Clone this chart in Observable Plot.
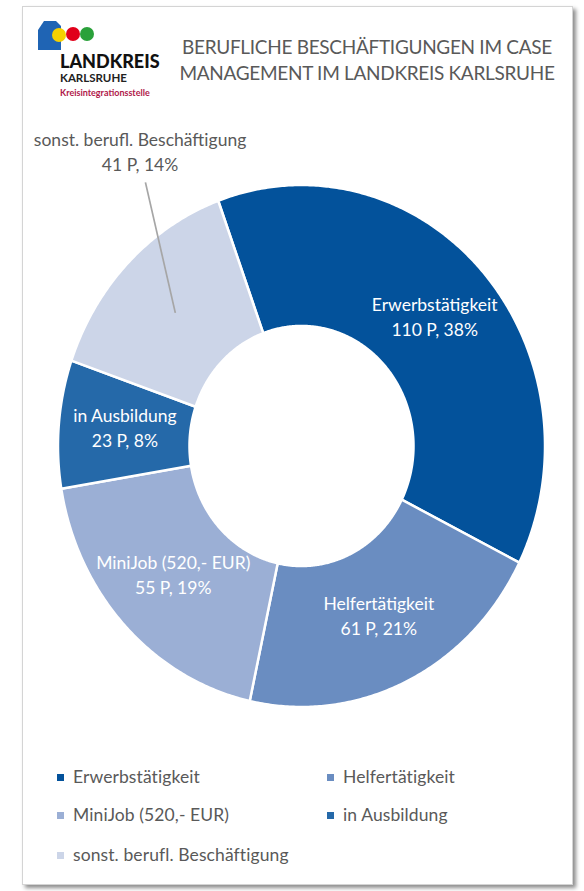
<!DOCTYPE html>
<html><head><meta charset="utf-8">
<script src="https://cdn.jsdelivr.net/npm/d3@7"></script>
<script src="https://cdn.jsdelivr.net/npm/@observablehq/plot@0.6"></script>
<style>
body{margin:0;width:584px;height:891px;position:relative;background:#fff;font-family:Lato,"Open Sans",sans-serif;overflow:hidden}
#frame{position:absolute;left:22px;top:6px;width:549px;height:877px;border:1px solid #d4d4d4;box-shadow:3px 3px 4px rgba(0,0,0,.45);background:#fff}
#logo{position:absolute;left:30px;top:12px}
#title{position:absolute;left:160px;width:414px;top:34px;text-align:center;color:#595959;font-size:19px;line-height:26px;letter-spacing:-0.3px}
#chart{position:absolute;left:0;top:110px}
.leg{position:absolute;color:#595959;font-size:17.5px;line-height:20px;white-space:nowrap;letter-spacing:0.1px}
.leg i{position:absolute;left:-16px;top:7px;width:7px;height:7px}
</style></head>
<body>
<div id="frame"></div>
<svg id="logo" width="140" height="95" viewBox="0 0 140 95">
  <path d="M14,9 L26,9 L31,14 L31,38 L8,38 L8,18 Z" fill="#1f64b4"/>
  <circle cx="29" cy="23" r="7" fill="#f5d000"/>
  <circle cx="43" cy="22" r="7" fill="#e1001a"/>
  <circle cx="57" cy="22" r="7" fill="#2aa13a"/>
  <text x="30" y="56" font-family="Lato, sans-serif" font-weight="900" font-size="18" fill="#111">LANDKREIS</text>
  <text x="30" y="70" font-family="Lato, sans-serif" font-weight="700" font-size="11.5" fill="#222">KARLSRUHE</text>
  <text x="30" y="84" font-family="Lato, sans-serif" font-weight="700" font-size="9" fill="#b0184a">Kreisintegrationsstelle</text>
</svg>
<div id="title">BERUFLICHE BESCHÄFTIGUNGEN IM CASE<br>MANAGEMENT IM LANDKREIS KARLSRUHE</div>
<div id="chart"></div>
<div id="legend"></div>
<script>
const categories = ["Erwerbstätigkeit","Helfertätigkeit","MiniJob (520,- EUR)","in Ausbildung","sonst. berufl. Beschäftigung"];
const persons = [110, 61, 55, 23, 41];
const percents = [38, 21, 19, 8, 14];
const colors = ["#03529B","#6A8DC1","#9BAFD5","#2569A9","#CCD5E8"];
const legendOrder = ["Erwerbstätigkeit","Helfertätigkeit","MiniJob (520,- EUR)","in Ausbildung","sonst. berufl. Beschäftigung"];

const startAngle = -20;   // degrees, clockwise from north
const innerRatio = 0.46;
const total = d3.sum(persons);
const rad = a => a * Math.PI / 180;

let acc = startAngle;
const slices = categories.map((c, i) => {
  const a0 = acc, a1 = acc + persons[i] / total * 360;
  acc = a1;
  return {cat: c, a0, a1, mid: (a0 + a1) / 2, p: persons[i], pct: percents[i]};
});
const pts = [];
for (const s of slices) {
  const n = Math.ceil((s.a1 - s.a0) * 2);
  for (let k = 0; k <= n; k++) {
    const a = rad(s.a0 + (s.a1 - s.a0) * k / n);
    pts.push({cat: s.cat, x1: Math.sin(a), y1: Math.cos(a), x2: innerRatio * Math.sin(a), y2: innerRatio * Math.cos(a)});
  }
}
const midR = (1 + innerRatio) / 2;
const inside = slices.slice(0, 4).map(s => ({
  x: midR * Math.sin(rad(s.mid)), y: midR * Math.cos(rad(s.mid)) + 0.015,
  text: `${s.cat}\n${s.p} P, ${s.pct}%`
}));
const last = slices[4];
const outLabel = [{x: -0.665, y: 1.135, text: `${last.cat}\n${last.p} P, ${last.pct}%`}];
const leader = [{x1: -0.643, y1: 1.012, x2: midR * Math.sin(rad(last.mid)), y2: midR * Math.cos(rad(last.mid))}];

const chart = Plot.plot({
  width: 584, height: 620, margin: 0,
  style: {background: "transparent"},
  x: {domain: [-1, 1], range: [58, 545], axis: null},
  y: {domain: [-1, 1], range: [597, 75], axis: null},
  color: {domain: categories, range: colors},
  marks: [
    Plot.area(pts, {x1: "x1", y1: "y1", x2: "x2", y2: "y2", fill: "cat", z: "cat", stroke: "white", strokeWidth: 2.5}),
    Plot.text(inside, {x: "x", y: "y", text: "text", fill: "white", fontSize: 17.5, lineHeight: 1.42, fontFamily: "Lato, sans-serif"}),
    Plot.link(leader, {x1: "x1", y1: "y1", x2: "x2", y2: "y2", stroke: "#a6a6a6", strokeWidth: 1.7}),
    Plot.text(outLabel, {x: "x", y: "y", text: "text", fill: "#595959", fontSize: 17.5, lineHeight: 1.42, fontFamily: "Lato, sans-serif"})
  ]
});
document.getElementById("chart").appendChild(chart);

const colorOf = d3.scaleOrdinal(categories, colors);
const legPos = [[73, 767], [343, 767], [73, 805], [343, 805], [73, 845]];
const leg = document.getElementById("legend");
legendOrder.forEach((c, i) => {
  const d = document.createElement("div");
  d.className = "leg";
  d.style.left = legPos[i][0] + "px";
  d.style.top = legPos[i][1] + "px";
  d.innerHTML = `<i style="background:${colorOf(c)}"></i>${c}`;
  leg.appendChild(d);
});
</script>
</body></html>
